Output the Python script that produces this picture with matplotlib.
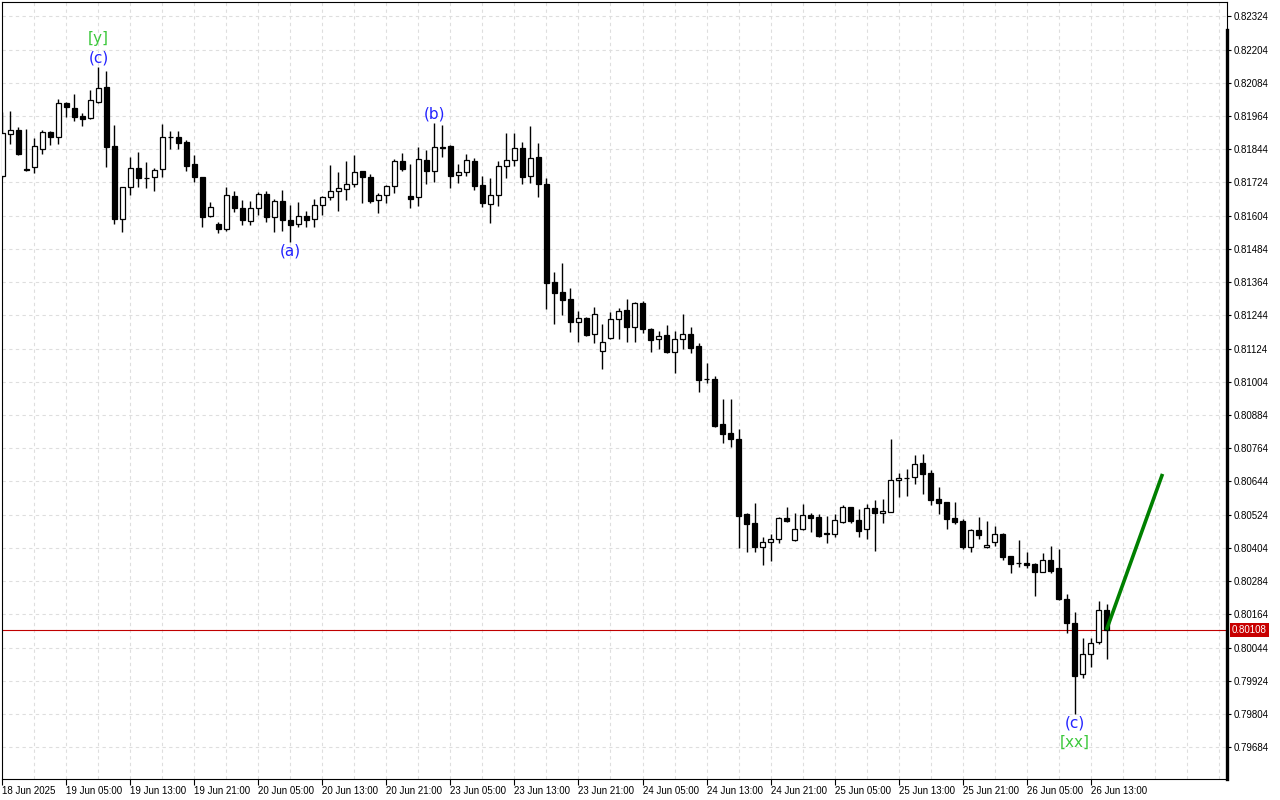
import matplotlib
matplotlib.use("Agg")
import matplotlib.pyplot as plt
import numpy as np

# H1 candles, 18 Jun 21:00 .. 26 Jun 15:00
opens = [0.81747, 0.81899, 0.81913, 0.81771, 0.81781, 0.81845, 0.81906, 0.81888, 0.82011, 0.81993,
         0.81964, 0.81957, 0.82014, 0.82069, 0.81855, 0.81592, 0.81707, 0.81776, 0.81740, 0.81744,
         0.81772, 0.81888, 0.81888, 0.81870, 0.81790, 0.81744, 0.81603, 0.81574, 0.81556, 0.81675,
         0.81631, 0.81585, 0.81631, 0.81682, 0.81599, 0.81657, 0.81588, 0.81574, 0.81603, 0.81592,
         0.81642, 0.81671, 0.81693, 0.81700, 0.81718, 0.81765, 0.81744, 0.81660, 0.81678, 0.81711,
         0.81801, 0.81675, 0.81671, 0.81805, 0.81765, 0.81852, 0.81855, 0.81751, 0.81762, 0.81801,
         0.81715, 0.81646, 0.81678, 0.81783, 0.81805, 0.81848, 0.81747, 0.81816, 0.81718, 0.81364,
         0.81328, 0.81303, 0.81220, 0.81234, 0.81176, 0.81115, 0.81162, 0.81231, 0.81263, 0.81202,
         0.81288, 0.81194, 0.81158, 0.81173, 0.81111, 0.81158, 0.81176, 0.81133, 0.81014, 0.81014,
         0.80851, 0.80819, 0.80797, 0.80526, 0.80494, 0.80407, 0.80425, 0.80436, 0.80512, 0.80432,
         0.80472, 0.80523, 0.80516, 0.80458, 0.80454, 0.80497, 0.80552, 0.80505, 0.80472, 0.80548,
         0.80530, 0.80533, 0.80649, 0.80656, 0.80660, 0.80710, 0.80674, 0.80580, 0.80570, 0.80512,
         0.80501, 0.80407, 0.80469, 0.80407, 0.80425, 0.80454, 0.80375, 0.80349, 0.80349, 0.80346,
         0.80317, 0.80360, 0.80331, 0.80219, 0.80133, 0.79948, 0.80021, 0.80064, 0.80180]
highs = [0.81978, 0.81982, 0.81925, 0.81917, 0.81884, 0.81913, 0.81910, 0.82025, 0.82014, 0.82043,
         0.81975, 0.82058, 0.82141, 0.82126, 0.81931, 0.81708, 0.81816, 0.81834, 0.81798, 0.81776,
         0.81935, 0.81910, 0.81910, 0.81877, 0.81823, 0.81745, 0.81653, 0.81581, 0.81707, 0.81693,
         0.81660, 0.81657, 0.81689, 0.81693, 0.81664, 0.81697, 0.81642, 0.81653, 0.81621, 0.81664,
         0.81675, 0.81787, 0.81762, 0.81801, 0.81823, 0.81766, 0.81754, 0.81686, 0.81715, 0.81809,
         0.81830, 0.81790, 0.81852, 0.81841, 0.81939, 0.81931, 0.81859, 0.81790, 0.81827, 0.81812,
         0.81747, 0.81740, 0.81801, 0.81902, 0.81902, 0.81870, 0.81928, 0.81866, 0.81740, 0.81400,
         0.81433, 0.81342, 0.81260, 0.81238, 0.81274, 0.81213, 0.81256, 0.81270, 0.81303, 0.81292,
         0.81296, 0.81198, 0.81187, 0.81209, 0.81187, 0.81249, 0.81202, 0.81144, 0.81072, 0.81025,
         0.80942, 0.80942, 0.80833, 0.80530, 0.80566, 0.80443, 0.80454, 0.80516, 0.80552, 0.80530,
         0.80562, 0.80530, 0.80526, 0.80519, 0.80526, 0.80559, 0.80553, 0.80544, 0.80562, 0.80577,
         0.80580, 0.80797, 0.80674, 0.80689, 0.80739, 0.80743, 0.80685, 0.80624, 0.80571, 0.80570,
         0.80508, 0.80472, 0.80516, 0.80501, 0.80483, 0.80458, 0.80376, 0.80432, 0.80389, 0.80350,
         0.80385, 0.80411, 0.80400, 0.80237, 0.80172, 0.80078, 0.80078, 0.80212, 0.80201]
lows = [0.81740, 0.81863, 0.81823, 0.81765, 0.81758, 0.81827, 0.81859, 0.81863, 0.81960, 0.81946,
        0.81928, 0.81953, 0.82012, 0.81780, 0.81574, 0.81545, 0.81678, 0.81707, 0.81704, 0.81693,
        0.81744, 0.81845, 0.81845, 0.81765, 0.81725, 0.81563, 0.81599, 0.81541, 0.81548, 0.81617,
        0.81570, 0.81570, 0.81606, 0.81581, 0.81545, 0.81548, 0.81509, 0.81563, 0.81563, 0.81563,
        0.81606, 0.81660, 0.81621, 0.81660, 0.81707, 0.81650, 0.81650, 0.81613, 0.81650, 0.81686,
        0.81765, 0.81631, 0.81639, 0.81718, 0.81725, 0.81816, 0.81704, 0.81722, 0.81747, 0.81697,
        0.81635, 0.81577, 0.81639, 0.81740, 0.81783, 0.81718, 0.81722, 0.81671, 0.81267, 0.81213,
        0.81245, 0.81184, 0.81148, 0.81169, 0.81144, 0.81050, 0.81158, 0.81158, 0.81148, 0.81148,
        0.81180, 0.81111, 0.81122, 0.81109, 0.81036, 0.81122, 0.81108, 0.80967, 0.80999, 0.80842,
        0.80783, 0.80768, 0.80403, 0.80389, 0.80389, 0.80342, 0.80357, 0.80422, 0.80497, 0.80429,
        0.80469, 0.80461, 0.80443, 0.80422, 0.80443, 0.80494, 0.80494, 0.80443, 0.80436, 0.80393,
        0.80494, 0.80532, 0.80588, 0.80591, 0.80635, 0.80598, 0.80559, 0.80526, 0.80472, 0.80490,
        0.80400, 0.80389, 0.80436, 0.80405, 0.80411, 0.80360, 0.80313, 0.80335, 0.80331, 0.80230,
        0.80315, 0.80313, 0.80216, 0.80096, 0.79804, 0.79934, 0.79974, 0.80057, 0.80003]
closes = [0.81901, 0.81913, 0.81827, 0.81769, 0.81854, 0.81906, 0.81888, 0.82011, 0.81996, 0.81960,
          0.81953, 0.82022, 0.82065, 0.81852, 0.81592, 0.81707, 0.81776, 0.81740, 0.81739, 0.81769,
          0.81888, 0.81887, 0.81866, 0.81783, 0.81744, 0.81599, 0.81635, 0.81556, 0.81678, 0.81631,
          0.81588, 0.81631, 0.81682, 0.81599, 0.81657, 0.81588, 0.81570, 0.81603, 0.81588, 0.81642,
          0.81671, 0.81693, 0.81704, 0.81718, 0.81762, 0.81744, 0.81657, 0.81678, 0.81711, 0.81801,
          0.81772, 0.81664, 0.81809, 0.81765, 0.81852, 0.81848, 0.81747, 0.81762, 0.81805, 0.81711,
          0.81650, 0.81678, 0.81783, 0.81805, 0.81848, 0.81744, 0.81812, 0.81718, 0.81361, 0.81324,
          0.81299, 0.81220, 0.81234, 0.81173, 0.81249, 0.81148, 0.81231, 0.81260, 0.81202, 0.81288,
          0.81194, 0.81155, 0.81169, 0.81111, 0.81158, 0.81176, 0.81126, 0.81010, 0.81013, 0.80844,
          0.80815, 0.80797, 0.80519, 0.80490, 0.80407, 0.80425, 0.80436, 0.80512, 0.80501, 0.80472,
          0.80523, 0.80512, 0.80447, 0.80454, 0.80505, 0.80552, 0.80501, 0.80465, 0.80548, 0.80530,
          0.80537, 0.80649, 0.80656, 0.80657, 0.80707, 0.80671, 0.80577, 0.80566, 0.80508, 0.80497,
          0.80407, 0.80469, 0.80450, 0.80414, 0.80454, 0.80371, 0.80346, 0.80348, 0.80342, 0.80317,
          0.80360, 0.80320, 0.80219, 0.80133, 0.79941, 0.80021, 0.80060, 0.80180, 0.80108]

tick_labels = ["18 Jun 2025", "19 Jun 05:00", "19 Jun 13:00", "19 Jun 21:00", "20 Jun 05:00",
               "20 Jun 13:00", "20 Jun 21:00", "23 Jun 05:00", "23 Jun 13:00", "23 Jun 21:00",
               "24 Jun 05:00", "24 Jun 13:00", "24 Jun 21:00", "25 Jun 05:00", "25 Jun 13:00",
               "25 Jun 21:00", "26 Jun 05:00", "26 Jun 13:00"]
price_ticks = [0.79684, 0.79804, 0.79924, 0.80044, 0.80164, 0.80284, 0.80404, 0.80524, 0.80644,
               0.80764, 0.80884, 0.81004, 0.81124, 0.81244, 0.81364, 0.81484, 0.81604, 0.81724,
               0.81844, 0.81964, 0.82084, 0.82204, 0.82324]

# wave marks: bar, text, kind (top/bottom, inner/outer)
wave_bars = [12, 12, 36, 54, 134, 134]
wave_texts = ["(c)", "[y]", "(a)", "(b)", "(c)", "[xx]"]
wave_kinds = ["top1", "top2", "bot1", "top1", "bot1", "bot2"]

target_bar = 145
target_price = 0.80671

n = len(closes)
x = np.arange(n)
o = np.array(opens)
c = np.array(closes)
h = np.array(highs)
l = np.array(lows)

fig = plt.figure(figsize=(12.8, 8), dpi=100)
ax = fig.add_axes([2 / 1280, 21.5 / 800, 1225 / 1280, 776.5 / 800])

up = c >= o
ax.vlines(x, l, h, color="black", linewidth=1.0, zorder=2)
body_bottom = np.minimum(o, c)
body_h = np.abs(c - o)
ax.bar(x[up], body_h[up], bottom=body_bottom[up], width=0.58,
       facecolor="white", edgecolor="black", linewidth=0.9, zorder=3)
ax.bar(x[~up], body_h[~up], bottom=body_bottom[~up], width=0.58,
       facecolor="black", edgecolor="black", linewidth=0.9, zorder=3)

# projection line
ax.plot([n - 1, target_bar], [closes[-1], target_price], color="#008000",
        linewidth=2.6, zorder=4, solid_capstyle="butt")

# current price line
ax.axhline(closes[-1], color="#c00000", linewidth=0.8, zorder=1.5)

ax.set_xlim(-0.06, 153.06)
ax.set_ylim(0.795709, 0.823756)

ax.set_xticks(np.arange(0, len(tick_labels) * 8, 8))
ax.set_xticklabels(tick_labels, ha="left",
                   fontfamily=["Liberation Sans Narrow", "Liberation Sans", "DejaVu Sans"],
                   fontsize=7)
ax.set_xticks(np.arange(0, 154, 4), minor=True)
ax.set_yticks(price_ticks)
ax.set_yticklabels([f"{p:.5f}" for p in price_ticks],
                   fontfamily=["Liberation Sans", "DejaVu Sans"], fontsize=7)
ax.yaxis.tick_right()
ax.tick_params(axis="x", which="major", length=4, width=0.8, pad=1.5)
ax.tick_params(axis="x", which="minor", length=0)
ax.tick_params(axis="y", length=3, width=0.8, pad=1.5)

ax.grid(True, axis="x", which="both", color="#dedede", linestyle=(0, (3, 3)), linewidth=0.8)
ax.grid(True, axis="y", which="major", color="#dedede", linestyle=(0, (3, 3)), linewidth=0.8)
ax.set_axisbelow(True)

for s in ax.spines.values():
    s.set_linewidth(0.8)
ax.plot([1, 1], [0, 0.964], transform=ax.transAxes, color="black",
        linewidth=2.4, clip_on=False, zorder=5)

# wave labels
offsets = {"top1": 9, "top2": 28, "bot1": -9, "bot2": -28}
for b, t, k in zip(wave_bars, wave_texts, wave_kinds):
    anchor = highs[b] if k.startswith("top") else lows[b]
    col = "#2222ff" if k.endswith("1") else "#3cc83c"
    ax.annotate(t, xy=(b, anchor), xytext=(0, offsets[k]), textcoords="offset pixels",
                ha="center", va="center", fontsize=11, color=col, zorder=6)

# price tag on the axis
ax.annotate(f"{closes[-1]:.5f}", xy=(1, closes[-1]), xycoords=("axes fraction", "data"),
            xytext=(5, 0), textcoords="offset pixels", ha="left", va="center",
            fontsize=7, fontfamily=["Liberation Sans", "DejaVu Sans"], color="white",
            bbox=dict(boxstyle="square,pad=0.2", facecolor="#c80000", edgecolor="none"),
            annotation_clip=False)

fig.savefig("out.png", dpi=100, facecolor="white")
